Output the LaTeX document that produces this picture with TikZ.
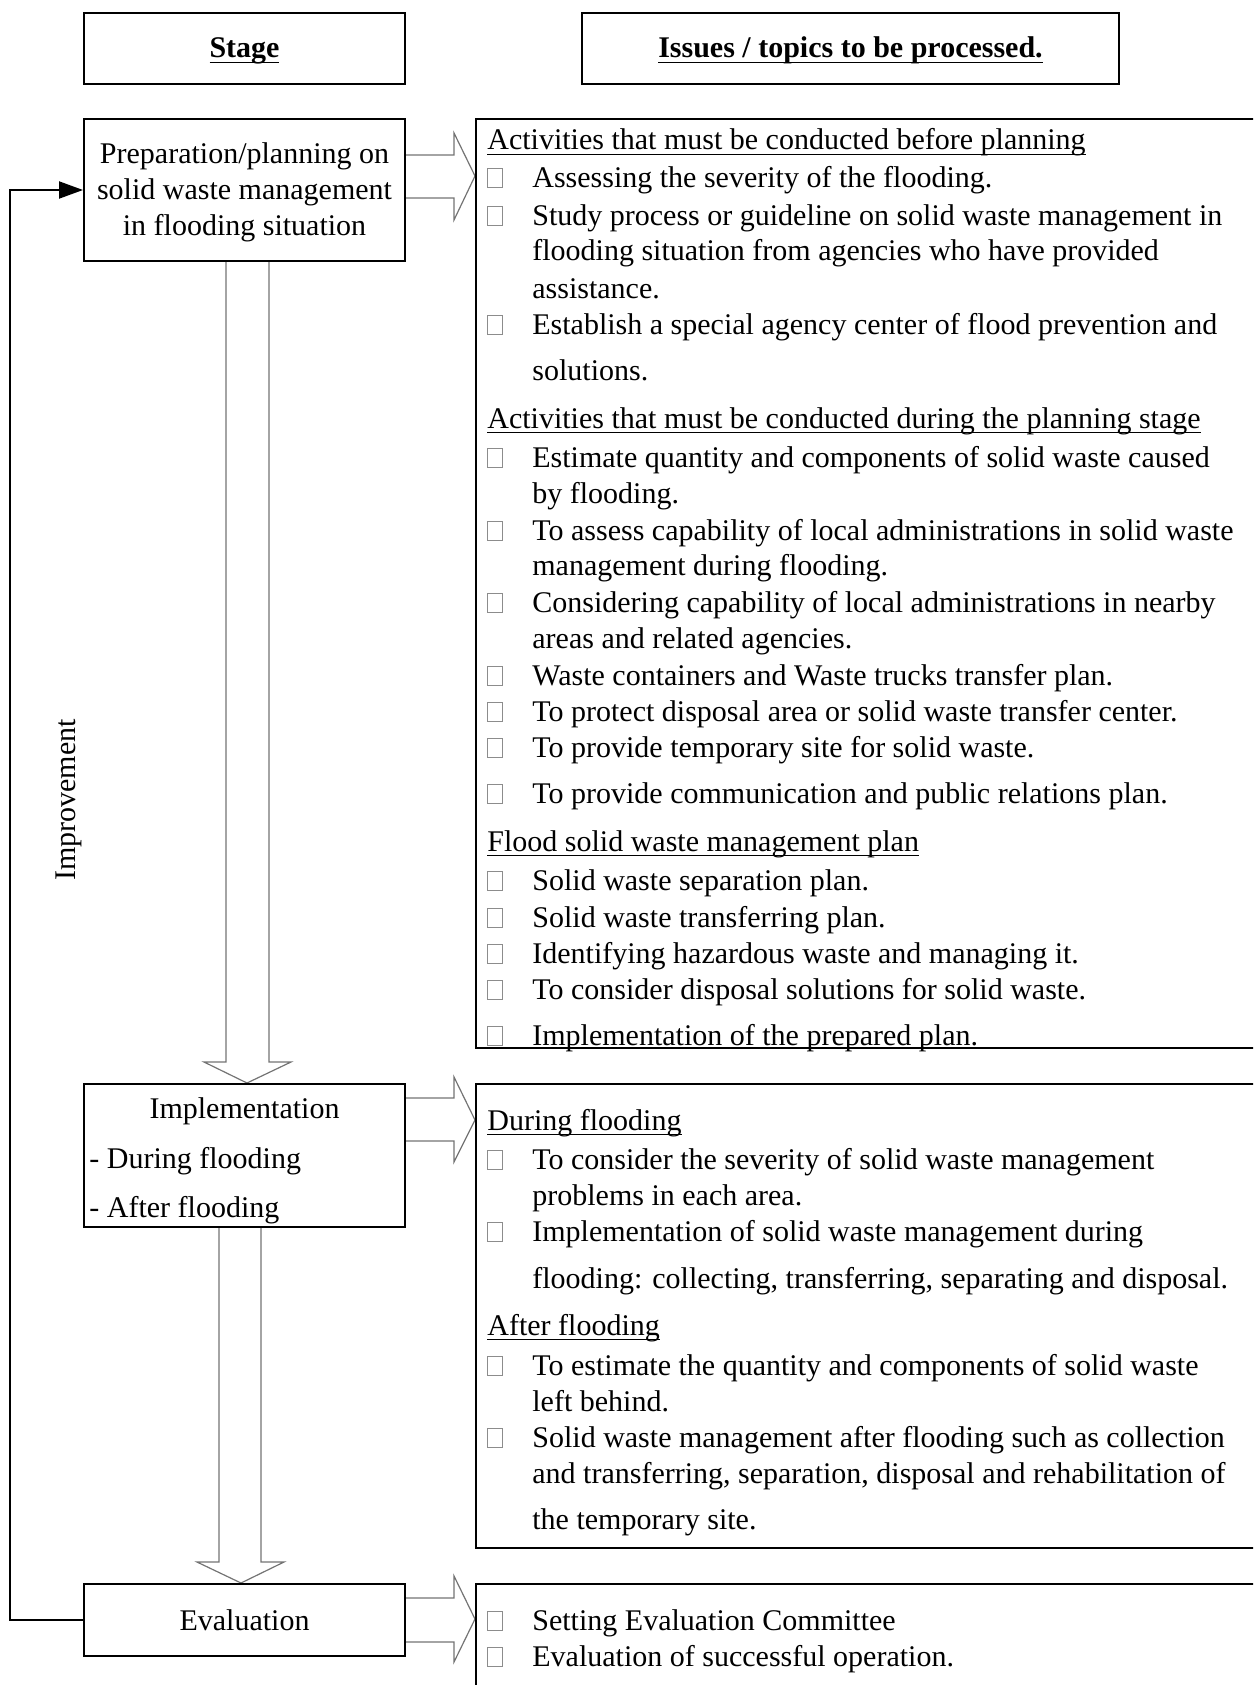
\documentclass[tikz,border=0pt]{standalone}
\usepackage{fontspec}
\setmainfont{Liberation Serif}
\usetikzlibrary{arrows.meta}
\newcommand{\myul}[1]{\setbox0=\hbox{#1}\rlap{\vrule height -1.8pt depth 2.5pt width \wd0}\box0}
\newcommand{\fs}{\fontsize{15}{17.7}\selectfont}
\tikzset{
  stagebox/.style={draw, line width=1pt, inner sep=0pt},
  listbox/.style={draw, line width=1pt, inner sep=0pt},
  blockarrow/.style={draw=black!55, line width=0.6pt, line join=miter},
  item/.style={anchor=base west, inner sep=0pt, font=\fs},
  ctr/.style={anchor=base, inner sep=0pt, font=\fs},
  bulletbox/.style={draw=black!45, line width=0.5pt},
  feedback/.style={line width=1pt, -{Triangle[length=12pt,width=8.5pt]}}
}
\begin{document}
\begin{tikzpicture}[x=0.5pt,y=-0.5pt]
\useasboundingbox (0,0) rectangle (1253,1685);
\clip (0,0) rectangle (1253,1685);

% block arrows (drawn first)
\draw[blockarrow] (405,155) -- (454,155) -- (454,133) -- (475,176) -- (454,220) -- (454,198) -- (405,198);
\draw[blockarrow] (405,1098) -- (454,1098) -- (454,1077) -- (475,1120) -- (454,1162) -- (454,1141) -- (405,1141);
\draw[blockarrow] (405,1598) -- (454,1598) -- (454,1576) -- (475,1619) -- (454,1662) -- (454,1642) -- (405,1642);
\draw[blockarrow] (226,261) -- (226,1062) -- (204,1062) -- (247,1083) -- (291,1062) -- (269,1062) -- (269,261);
\draw[blockarrow] (219,1227) -- (219,1562) -- (197,1562) -- (241,1583) -- (284,1562) -- (261,1562) -- (261,1227);

% header boxes
\node[stagebox, minimum width=160.5pt, minimum height=35.5pt] (stage) at (244.5,48.5) {};
\node[ctr, font=\fs\bfseries] (stageT) at (244.5,58) {\myul{Stage}};
\node[stagebox, minimum width=268.5pt, minimum height=35.5pt] (issues) at (850.5,48.5) {};
\node[ctr, font=\fs\bfseries] (issuesT) at (850.5,58) {\myul{Issues / topics to be processed.}};

% stage boxes
\node[stagebox, minimum width=160.5pt, minimum height=71pt] (prep) at (244.5,190) {};
\node[ctr] (prep1) at (244.5,164) {Preparation/planning on};
\node[ctr] (prep2) at (244.5,199.5) {solid waste management};
\node[ctr] (prep3) at (244.5,235) {in flooding situation};
\node[stagebox, minimum width=160.5pt, minimum height=71.5pt] (impl) at (244.5,1155.5) {};
\node[ctr] (implT) at (244.5,1118) {Implementation};
\node[item] (implD) at (89,1168) {- During flooding};
\node[item] (implA) at (89,1217) {- After flooding};
\node[stagebox, minimum width=160.5pt, minimum height=36pt] (eval) at (244.5,1620) {};
\node[ctr] (evalT) at (244.5,1630) {Evaluation};

% feedback loop
\draw[feedback] (eval.west) -- ++(-73,0) |- (prep.west);
\node[rotate=90, inner sep=0pt, font=\fs] (impr) at (69,800) {Improvement};

% list boxes
\node[listbox, minimum width=394.5pt, minimum height=464.5pt] (box1) at (870.5,583.5) {};
\node[listbox, minimum width=394.5pt, minimum height=232pt] (box2) at (870.5,1316) {};
\node[listbox, minimum width=394.5pt, minimum height=68pt] (box3) at (870.5,1652) {};

% headings
\foreach \yy/\lab [count=\i] in {150/{Activities that must be conducted before planning},
  428/{Activities that must be conducted during the planning stage},
  851/{Flood solid waste management plan},
  1130/{During flooding},
  1335/{After flooding}}
  \node[item] (hd\i) at (487,\yy) {\myul{\lab}};

% item lines
\foreach \yy/\lab [count=\i] in {188/{Assessing the severity of the flooding.},
  226/{Study process or guideline on solid waste management in},
  261/{flooding situation from agencies who have provided},
  298/{assistance.},
  334/{Establish a special agency center of flood prevention and},
  380/{solutions.},
  467/{Estimate quantity and components of solid waste caused},
  503/{by flooding.},
  540/{To assess capability of local administrations in solid waste},
  575/{management during flooding.},
  612/{Considering capability of local administrations in nearby},
  648/{areas and related agencies.},
  685/{Waste containers and Waste trucks transfer plan.},
  721/{To protect disposal area or solid waste transfer center.},
  757/{To provide temporary site for solid waste.},
  803/{To provide communication and public relations plan.},
  890/{Solid waste separation plan.},
  927/{Solid waste transferring plan.},
  963/{Identifying hazardous waste and managing it.},
  999/{To consider disposal solutions for solid waste.},
  1045/{Implementation of the prepared plan.},
  1169/{To consider the severity of solid waste management},
  1205/{problems in each area.},
  1241/{Implementation of solid waste management during},
  1288/{flooding: collecting, transferring, separating and disposal.},
  1375/{To estimate the quantity and components of solid waste},
  1411/{left behind.},
  1447/{Solid waste management after flooding such as collection},
  1483/{and transferring, separation, disposal and rehabilitation of},
  1529/{the temporary site.},
  1630/{Setting Evaluation Committee},
  1666/{Evaluation of successful operation.}}
  \node[item] (ln\i) at (532,\yy) {\lab};

% bullet squares
\foreach \yy in {188,226,334,467,540,612,685,721,757,803,890,927,963,999,1045,1169,1241,1375,1447,1630,1666}
  \draw[bulletbox] (487,\yy-19) rectangle (502,\yy);
\end{tikzpicture}
\end{document}
